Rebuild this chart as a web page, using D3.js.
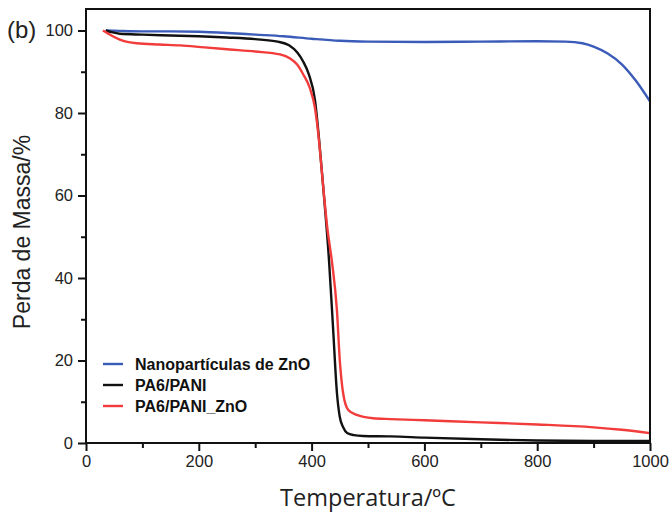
<!DOCTYPE html>
<html>
<head>
<meta charset="utf-8">
<script src="https://cdn.jsdelivr.net/npm/d3@7"></script>
<style>
  html, body { margin: 0; padding: 0; background: #fff; }
  svg { display: block; }
</style>
</head>
<body>
<svg id="chart" width="670" height="512"></svg>
<script>
// TGA curves: temperature (ºC) vs remaining mass (%)
const zincTemps = [35, 60, 100, 150, 200, 250, 300, 350, 400, 450, 500, 600, 700, 800, 850, 880, 900, 925, 950, 975, 1000];
const zincMass  = [100, 99.9, 99.8, 99.8, 99.7, 99.4, 99.0, 98.6, 98.0, 97.5, 97.3, 97.2, 97.3, 97.4, 97.3, 96.9, 96.1, 94.4, 91.8, 87.8, 82.8];

const pa6Temps = [35, 45, 60, 100, 150, 200, 250, 300, 340, 360, 375, 385, 395, 406, 413, 420, 431, 438, 445, 450, 456, 463, 475, 491, 540, 600, 700, 800, 900, 1000];
const pa6Mass  = [100, 99.6, 99.2, 99.0, 98.8, 98.6, 98.3, 97.9, 97.3, 96.4, 94.6, 92.5, 89.4, 83.1, 74, 63, 44, 28, 12, 6.3, 3.8, 2.4, 1.9, 1.7, 1.6, 1.3, 0.9, 0.6, 0.5, 0.5];

const znoTemps = [30, 45, 60, 90, 130, 167, 210, 255, 300, 344, 362, 374, 385, 397, 406, 413, 420, 428, 436, 445, 450, 456, 465, 480, 509, 540, 600, 700, 800, 900, 950, 1000];
const znoMass  = [100, 98.8, 97.8, 96.9, 96.6, 96.4, 95.9, 95.4, 94.9, 94.2, 93.2, 91.8, 89.4, 86, 81.2, 73.5, 63, 52, 44, 32, 20, 12, 8, 6.8, 6.0, 5.8, 5.5, 5.0, 4.5, 3.8, 3.2, 2.4];

const seriesNames  = ["Nanopartículas de ZnO", "PA6/PANI", "PA6/PANI_ZnO"];
const seriesColors = ["#3b5bb8", "#111111", "#f23c3c"];

const xTicks = [0, 200, 400, 600, 800, 1000];
const xMinor = [100, 300, 500, 700, 900];
const yTicks = [0, 20, 40, 60, 80, 100];
const yMinor = [10, 30, 50, 70, 90];

const series = [
  { name: seriesNames[0], color: seriesColors[0], pts: zincTemps.map((t, i) => [t, zincMass[i]]) },
  { name: seriesNames[1], color: seriesColors[1], pts: pa6Temps.map((t, i) => [t, pa6Mass[i]]) },
  { name: seriesNames[2], color: seriesColors[2], pts: znoTemps.map((t, i) => [t, znoMass[i]]) }
];

const svg = d3.select("#chart");
const plotLeft = 86, plotRight = 650, plotTop = 9, plotBottom = 443;

const x = d3.scaleLinear().domain([0, 1000]).range([plotLeft, plotRight]);
const y = d3.scaleLinear().domain([0, 100]).range([plotBottom, 30.5]);

const font = "'Liberation Sans', Arial, sans-serif";

// frame
svg.append("rect")
  .attr("x", plotLeft).attr("y", plotTop)
  .attr("width", plotRight - plotLeft).attr("height", plotBottom - plotTop)
  .attr("fill", "none").attr("stroke", "#111").attr("stroke-width", 2);

// x axis
svg.append("g").attr("transform", `translate(0,${plotBottom})`)
  .call(d3.axisBottom(x).tickValues(xTicks).tickSize(8).tickPadding(4).tickFormat(d3.format("d")));
svg.append("g").attr("transform", `translate(0,${plotBottom})`)
  .call(d3.axisBottom(x).tickValues(xMinor).tickSize(5).tickFormat(""));

// y axis
svg.append("g").attr("transform", `translate(${plotLeft},0)`)
  .call(d3.axisLeft(y).tickValues(yTicks).tickSize(8).tickPadding(5).tickFormat(d3.format("d")));
svg.append("g").attr("transform", `translate(${plotLeft},0)`)
  .call(d3.axisLeft(y).tickValues(yMinor).tickSize(5).tickFormat(""));

svg.selectAll(".domain").remove();
svg.selectAll(".tick line").attr("stroke", "#111").attr("stroke-width", 2);
svg.selectAll(".tick text")
  .attr("font-family", font).attr("font-size", 16.5).attr("fill", "#222");

// curves
const line = d3.line()
  .x(d => x(d[0])).y(d => y(d[1]))
  .curve(d3.curveMonotoneX);

svg.append("g").selectAll("path")
  .data(series)
  .join("path")
  .attr("d", d => line(d.pts))
  .attr("fill", "none")
  .attr("stroke", d => d.color)
  .attr("stroke-width", 2.4)
  .attr("stroke-linejoin", "round");

// redraw frame edges on top of curve ends
svg.append("line").attr("x1", plotRight).attr("x2", plotRight).attr("y1", plotTop).attr("y2", plotBottom)
  .attr("stroke", "#111").attr("stroke-width", 2);
svg.append("line").attr("x1", plotLeft).attr("x2", plotRight).attr("y1", plotBottom).attr("y2", plotBottom)
  .attr("stroke", "#111").attr("stroke-width", 2);

// legend
const legend = svg.append("g");
series.forEach((s, i) => {
  const ly = 364 + i * 21;
  legend.append("line")
    .attr("x1", 103).attr("x2", 123).attr("y1", ly).attr("y2", ly)
    .attr("stroke", s.color).attr("stroke-width", 2.4);
  legend.append("text")
    .attr("x", 135).attr("y", ly).attr("dy", "0.36em")
    .attr("font-family", font).attr("font-size", 16).attr("font-weight", "bold")
    .attr("fill", "#111")
    .text(s.name);
});

// axis titles
svg.append("text")
  .attr("x", (plotLeft + plotRight) / 2).attr("y", 506)
  .attr("text-anchor", "middle")
  .attr("font-family", "'Open Sans', sans-serif").attr("font-size", 23.5)
  .attr("fill", "#222")
  .text("Temperatura/ºC");

svg.append("text")
  .attr("transform", `translate(30,232) rotate(-90)`)
  .attr("text-anchor", "middle")
  .attr("font-family", font).attr("font-size", 23)
  .attr("fill", "#222")
  .text("Perda de Massa/%");

// panel tag
svg.append("text")
  .attr("x", 7).attr("y", 38)
  .attr("font-family", font).attr("font-size", 24)
  .attr("fill", "#222")
  .text("(b)");
</script>
</body>
</html>
